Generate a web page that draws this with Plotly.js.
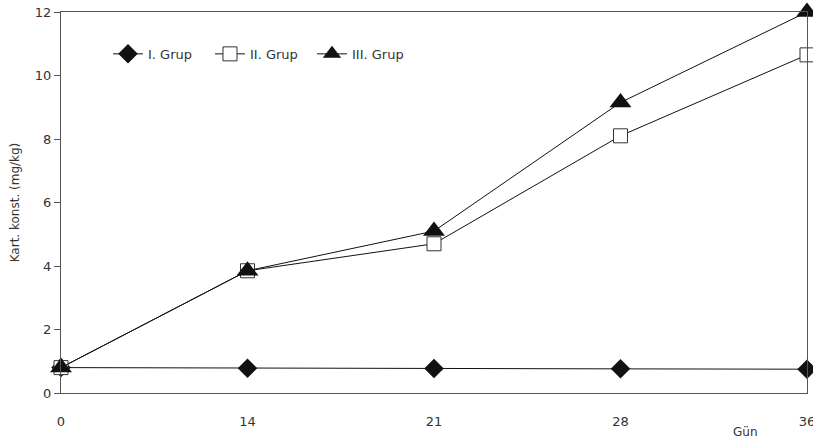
<!DOCTYPE html>
<html><head><meta charset="utf-8">
<script src="https://cdn.plot.ly/plotly-3.0.1.min.js"></script>
<style>html,body{margin:0;padding:0;background:#fff}#c{width:813px;height:441px}</style>
</head><body><div id="c"></div>
<script>
const days = ['0','14','21','28','36'];
const grup1 = [0.80, 0.78, 0.77, 0.76, 0.75];
const grup2 = [0.80, 3.85, 4.70, 8.10, 10.65];
const grup3 = [0.80, 3.85, 5.10, 9.15, 12.0];
const yTicks = [0, 2, 4, 6, 8, 10, 12];

const font = {family: 'DejaVu Sans, Verdana, sans-serif', size: 13, color: '#333'};
const traces = [
  {x: days, y: grup1, name: 'I. Grup', mode: 'lines+markers', cliponaxis: false,
   line: {color: '#111', width: 1}, marker: {symbol: 'diamond', size: 15, color: '#111'}},
  {x: days, y: grup2, name: 'II. Grup', mode: 'lines+markers', cliponaxis: false,
   line: {color: '#111', width: 1}, marker: {symbol: 'square', size: 14, color: '#fff', line: {color: '#333', width: 1}}},
  {x: days, y: grup3, name: 'III. Grup', mode: 'lines+markers', cliponaxis: false,
   line: {color: '#111', width: 1}, marker: {symbol: 'triangle-up', size: 19, color: '#111'}}
];
const layout = {
  width: 813, height: 441,
  margin: {l: 61, r: 6, t: 12, b: 48},
  paper_bgcolor: '#fff', plot_bgcolor: '#fff',
  font: font,
  showlegend: true,
  legend: {orientation: 'h', x: 0.063, y: 0.89, xanchor: 'left', yanchor: 'middle',
           entrywidth: 57, entrywidthmode: 'pixels',
           bgcolor: 'rgba(0,0,0,0)', font: font, traceorder: 'normal'},
  xaxis: {type: 'category', range: [0, 4], showgrid: false, zeroline: false,
          showline: true, linecolor: '#555', linewidth: 1, mirror: true,
          ticks: '', tickfont: font, ticklabelstandoff: 16},
  yaxis: {range: [0, 12], tickvals: yTicks, showgrid: false, zeroline: false,
          showline: true, linecolor: '#555', linewidth: 1, mirror: true,
          ticks: 'outside', ticklen: 6, tickcolor: '#555', tickfont: font,
          title: {text: 'Kart. konst. (mg/kg)', font: {family: font.family, size: 12, color: '#333'}, standoff: 12}},
  annotations: [{text: 'Gün', xref: 'paper', yref: 'paper', x: 0.918, y: -0.102, xanchor: 'center',
                 yanchor: 'middle', showarrow: false, font: {family: font.family, size: 12, color: '#333'}}]
};
Plotly.newPlot('c', traces, layout, {displayModeBar: false, staticPlot: true});
</script></body></html>
